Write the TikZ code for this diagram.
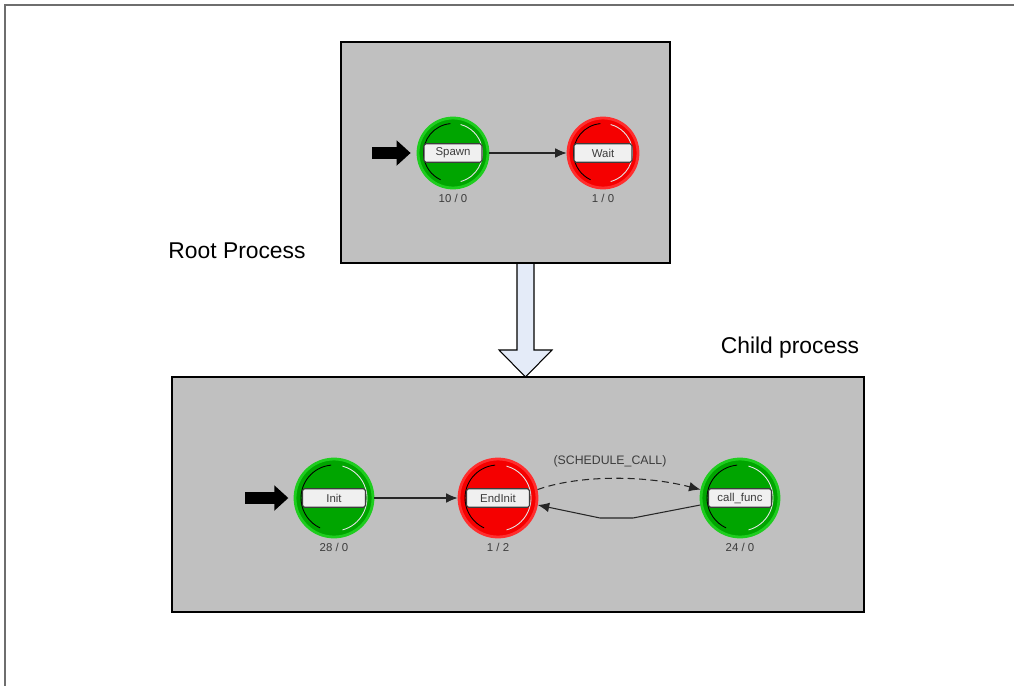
\documentclass[tikz,border=0pt]{standalone}
\usepackage{fontspec}
\setmainfont{Liberation Sans}
\usetikzlibrary{arrows.meta}

\definecolor{boxgray}{RGB}{192,192,192}
\definecolor{stgreen}{RGB}{0,165,0}
\definecolor{ringgreen}{RGB}{30,205,30}
\definecolor{stred}{RGB}{245,0,0}
\definecolor{ringred}{RGB}{255,45,45}
\definecolor{arrowblue}{RGB}{228,235,248}
\definecolor{txtgray}{RGB}{60,60,60}
\definecolor{framegray}{RGB}{110,110,110}

\tikzset{
  procbox/.style={draw=black,line width=1.2pt,fill=boxgray},
  greenstate/.style={circle,draw=ringgreen,fill=stgreen,line width=1.6pt,minimum size=#1,inner sep=0pt},
  redstate/.style={circle,draw=ringred,fill=stred,line width=1.6pt,minimum size=#1,inner sep=0pt},
  namebox/.style={draw=txtgray,fill=gray!12,rounded corners=1pt,line width=0.6pt,minimum width=#1,minimum height=0.37cm,inner sep=0pt,font=\fontsize{6.5}{7}\selectfont,text=txtgray},
  countlbl/.style={font=\fontsize{6.5}{7}\selectfont,text=txtgray},
  title/.style={font=\fontsize{13}{15}\selectfont},
  entry/.style={line width=6.5pt,-{Triangle[length=8pt,width=14pt]}},
  trans/.style={draw=black!85,line width=0.6pt,-{Latex[length=6.5pt,width=5.5pt]}},
  bigarrow/.style={draw=black,line width=0.6pt,fill=arrowblue},
}

\begin{document}
\begin{tikzpicture}[x=0.02cm,y=-0.02cm]
\useasboundingbox (0,0) rectangle (1014,686);
\draw[framegray,line width=0.8pt] (5,686) -- (5,5) -- (1014,5);

% block arrow between the two processes
\draw[bigarrow] (517,263) -- (517,350) -- (499,350) -- (525.5,377) -- (552,350) -- (534,350) -- (534,263) -- cycle;

% root process
\draw[procbox] (341,42) rectangle (670,263);
\node[title] (roottitle) at (237,251) {Root Process};
\node[greenstate=1.4cm] (spawn) at (453,153) {};
\node[redstate=1.4cm] (wait) at (603,153) {};

% child process
\draw[procbox] (172,377) rectangle (864,612);
\node[title] (childtitle) at (790,348) {Child process};
\node[greenstate=1.56cm] (init) at (334,498) {};
\node[redstate=1.56cm] (endinit) at (498,498) {};
\node[greenstate=1.56cm] (callfunc) at (740,498) {};

% inner shading arcs of the states
\foreach \st/\r in {spawn/0.59cm,wait/0.59cm,init/0.66cm,endinit/0.66cm,callfunc/0.66cm}{
  \draw[black,line width=0.5pt] ([shift={(95:\r)}]\st.center) arc[start angle=95,end angle=245,radius=\r];
  \draw[white!80!gray,line width=0.5pt] ([shift={(-75:\r)}]\st.center) arc[start angle=-75,end angle=75,radius=\r];
}

\node[namebox=1.16cm] (spawnlbl) at (spawn) {Spawn};
\node[namebox=1.16cm] (waitlbl) at (wait) {Wait};
\node[countlbl] (spawncnt) at (453,198) {10 / 0};
\node[countlbl] (waitcnt) at (603,198) {1 / 0};
\coordinate (spawnin) at (372,153);
\draw[entry,shorten >=3.4pt] (spawnin) -- (spawn.west);
\draw[trans] (spawn) -- (wait);

\node[namebox=1.26cm] (initlbl) at (init) {Init};
\node[namebox=1.26cm] (endinitlbl) at (endinit) {EndInit};
\node[namebox=1.26cm] (callfunclbl) at (callfunc) {call\_func};
\node[countlbl] (initcnt) at (334,547) {28 / 0};
\node[countlbl] (endinitcnt) at (498,547) {1 / 2};
\node[countlbl] (callfunccnt) at (740,547) {24 / 0};
\coordinate (initin) at (245,498);
\draw[entry,shorten >=3pt] (initin) -- (init.west);
\draw[trans] (init) -- (endinit);
\draw[trans,dashed,dash pattern=on 4pt off 2.5pt] (endinit.12) .. controls (575,476) and (640,474) .. (callfunc.168);
\node[countlbl,font=\fontsize{7}{8}\selectfont] (schedlbl) at (610,461) {(SCHEDULE\_CALL)};
\coordinate (retbend1) at (633,518);
\coordinate (retbend2) at (600,518);
\draw[trans] (callfunc.190) -- (retbend1) -- (retbend2) -- (endinit.-10);
\end{tikzpicture}
\end{document}
